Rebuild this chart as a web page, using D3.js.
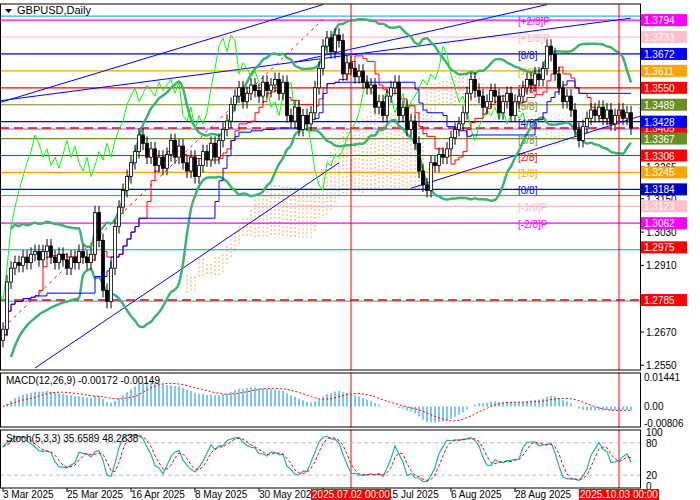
<!DOCTYPE html>
<html><head><meta charset="utf-8">
<script src="https://cdn.jsdelivr.net/npm/d3@7"></script>
<style>body{margin:0;background:#fff}text{font-family:"Liberation Sans",Arial,sans-serif}</style>
</head><body><svg id="c" width="700" height="500"></svg>
<script>
// daily closes, GBPUSD, from 3 Mar 2025
const closes = [1.268,1.285,1.290,1.292,
 1.291,1.294,1.292,1.295,1.296,1.293,1.296,1.298,1.294,1.292,1.295,
 1.293,1.290,1.294,1.292,1.296,1.294,1.292,1.295,
 1.310,1.300,1.282,1.278,1.290,
 1.305,1.312,1.318,1.323,1.328,1.332,1.338,
 1.335,1.330,1.333,1.327,1.330,1.326,1.331,1.336,
 1.330,1.334,1.328,1.325,1.330,1.323,1.327,
 1.332,1.329,1.335,1.330,1.336,1.340,1.343,
 1.349,1.352,1.355,1.350,1.353,1.356,1.354,
 1.352,1.357,1.354,1.356,1.358,1.353,1.357,
 1.345,1.343,1.348,1.340,1.345,1.342,1.346,
 1.355,1.362,1.370,1.373,1.368,1.374,1.372,
 1.360,1.364,1.362,1.359,1.361,1.357,1.355,
 1.356,1.348,1.350,1.345,1.352,1.355,1.357,
 1.345,1.348,1.340,1.343,1.335,1.325,1.320,
 1.318,1.328,1.327,1.331,1.330,1.333,1.337,
 1.340,1.342,1.346,1.353,1.358,1.354,1.352,
 1.348,1.350,1.354,1.352,1.346,1.350,1.353,
 1.345,1.350,1.352,1.355,1.358,1.356,1.360,
 1.358,1.362,1.370,1.367,1.360,1.355,1.350,
 1.352,1.347,1.340,1.336,1.341,1.344,1.347,
 1.345,1.348,1.344,1.347,1.342,1.345,1.347,
 1.344,1.346,1.3405];
const wick = 0.0025;

const tickIdx = [0,16,32,48,64,80,96,112,128,87,154];
const tickLabels = ["3 Mar 2025","25 Mar 2025","16 Apr 2025","8 May 2025","30 May 2025","23 Jun 2025","15 Jul 2025","6 Aug 2025","28 Aug 2025","2025.07.02 00:00","2025.10.03 00:00"];
const redTicks = [9,10];

const murreyNames = ["[+2/8]P","[+1/8]P","[8/8]","[7/8]","[6/8]","[5/8]","[4/8]","[3/8]","[2/8]","[1/8]","[0/8]","[-1/8]P","[-2/8]P"];
const murreyPrices = [1.3794,1.3733,1.3672,1.3611,1.3550,1.3489,1.3428,1.3367,1.3306,1.3245,1.3184,1.3123,1.3062];
const murreyColors = ["#ff00ff","#ffb6c1","#0000cd","#ffa500","#ff0000","#6b8e23","#0000cd","#6b8e23","#ff0000","#ffa500","#0000cd","#ffb6c1","#ff00ff"];

const fibNames = ["0.0","23.6","38.2","50.0","61.8"];
const fibPrices = [1.3812,1.3405,1.3165,1.2970,1.2785];

const axisTicks = [1.2550,1.2670,1.2910,1.3030,1.3150,1.3265];
const boxPrices = [1.3794,1.3733,1.3672,1.3611,1.3550,1.3489,1.3405,1.3428,1.3367,1.3306,1.3245,1.3184,1.3123,1.3062,1.2975,1.2785];
const boxColors = ["#ff00ff","#ffc0cb","#0000ff","#ffa500","#ff0000","#6b8e23","#ff0000","#0000ff","#6b8e23","#ff0000","#ffa500","#0000cd","#ffc0cb","#ff00ff","#ff0000","#ff0000"];

// trend lines [i1,p1,i2,p2]
const trends = [[-1,1.3496,80,1.3850],[-1,1.3503,157,1.3801],[73,1.3643,136,1.3850],
 [8,1.2540,84,1.3280],[102,1.3188,160,1.3451]];
const redDiag = [-1,1.2670,80,1.3797];

const svg = d3.select("#c");
const W = 640, mTop = 4, mBot = 370;
const x = d3.scaleLinear().domain([0,157]).range([3,631]);
const y = d3.scaleLinear().domain([1.3852,1.2533]).range([mTop,mBot]);

const bars = closes.map((c,i)=>{const o=i?closes[i-1]:c-0.004;return {i,o,c,h:Math.max(o,c)+wick,l:Math.min(o,c)-wick};});

svg.append("defs").append("clipPath").attr("id","mc").append("rect").attr("x",0).attr("y",mTop).attr("width",W).attr("height",mBot-mTop);
const g = svg.append("g").attr("clip-path","url(#mc)");

// ichimoku
const hh=(a,b)=>d3.max(bars.slice(Math.max(0,a),b+1),d=>d.h), ll=(a,b)=>d3.min(bars.slice(Math.max(0,a),b+1),d=>d.l);
const tenkan = bars.map((d,i)=>(hh(i-8,i)+ll(i-8,i))/2);
const kijun = bars.map((d,i)=>(hh(i-25,i)+ll(i-25,i))/2);
const spanB = bars.map((d,i)=>(hh(i-51,i)+ll(i-51,i))/2);
bars.forEach((d,i)=>{
  if(i<20) return;
  const a=(tenkan[i]+kijun[i])/2, b=spanB[i];
  g.append("line").attr("x1",x(i+26)).attr("x2",x(i+26)).attr("y1",y(a)).attr("y2",y(b))
   .attr("stroke",a>=b?"#f4a460":"#d8bfd8").attr("stroke-dasharray","2,2");
});

// horizontal levels
murreyPrices.forEach((p,k)=>{
  g.append("line").attr("x1",0).attr("x2",W).attr("y1",y(p)).attr("y2",y(p)).attr("stroke",murreyColors[k]).attr("stroke-width",1.2);
  g.append("text").attr("x",518).attr("y",y(p)+5).attr("font-size",10).attr("fill",murreyColors[k]).text(murreyNames[k]);
});
fibPrices.forEach((p,k)=>{
  g.append("line").attr("x1",0).attr("x2",W).attr("y1",y(p)+1).attr("y2",y(p)+1).attr("stroke","#1e90ff");
  g.append("text").attr("x",657).attr("y",y(p)-2).attr("text-anchor","end").attr("font-size",9).attr("fill","#1e90ff").text(fibNames[k]);
});
[1.3405,1.2785].forEach(p=>g.append("line").attr("x1",0).attr("x2",W).attr("y1",y(p)).attr("y2",y(p)).attr("stroke","#ff0000").attr("stroke-width",1.5).attr("stroke-dasharray","9,5"));

// trend lines
trends.forEach(t=>g.append("line").attr("x1",x(t[0])).attr("y1",y(t[1])).attr("x2",x(t[2])).attr("y2",y(t[3])).attr("stroke","#0000ff"));
g.append("line").attr("x1",x(redDiag[0])).attr("y1",y(redDiag[1])).attr("x2",x(redDiag[2])).attr("y2",y(redDiag[3])).attr("stroke","#ff0000").attr("stroke-dasharray","3,4");

// bollinger
const bb = bars.map((d,i)=>{const s=closes.slice(Math.max(0,i-19),i+1);const m=d3.mean(s),sd=d3.deviation(s)||0;return {i,m,u:m+2*sd,l:m-2*sd};});
const line = (acc)=>d3.line().x(d=>x(d.i)).y(acc).curve(d3.curveMonotoneX);
["u","l"].forEach(k=>g.append("path").datum(bb.slice(2)).attr("d",line(d=>y(d[k]))).attr("fill","none").attr("stroke","#3cb371").attr("stroke-width",2.5));
// chikou
g.append("path").datum(bars.map(d=>({i:d.i-26,v:d.c}))).attr("d",d3.line().x(d=>x(d.i)).y(d=>y(d.v))).attr("fill","none").attr("stroke","#00ff00");
g.append("path").datum(bars).attr("d",d3.line().x(d=>x(d.i)).y(d=>y(tenkan[d.i])).curve(d3.curveStepAfter)).attr("fill","none").attr("stroke","#ff0000");
g.append("path").datum(bars).attr("d",d3.line().x(d=>x(d.i)).y(d=>y(kijun[d.i])).curve(d3.curveStepAfter)).attr("fill","none").attr("stroke","#0000ff");

// candles
const cg = g.selectAll(".cd").data(bars).join("g");
cg.append("line").attr("x1",d=>x(d.i)).attr("x2",d=>x(d.i)).attr("y1",d=>y(d.h)).attr("y2",d=>y(d.l)).attr("stroke","#000");
cg.append("rect").attr("x",d=>x(d.i)-1.5).attr("width",3).attr("y",d=>y(Math.max(d.o,d.c))).attr("height",d=>Math.max(1,Math.abs(y(d.o)-y(d.c))))
  .attr("fill",d=>d.c>=d.o?"#fff":"#000").attr("stroke","#000").attr("stroke-width",0.8);

// vertical red lines
const panes=[[mTop,mBot],[373,427],[430,488]];
redTicks.forEach(k=>panes.forEach(p=>svg.append("line").attr("x1",x(tickIdx[k])).attr("x2",x(tickIdx[k])).attr("y1",p[0]).attr("y2",p[1]).attr("stroke","#ff0000")));

// MACD
const ema=(arr,n)=>{const a=2/(n+1);let e=arr[0];return arr.map(v=>e=v*a+e*(1-a));};
const e12=ema(closes,12),e26=ema(closes,26);
const macd=closes.map((c,i)=>e12[i]-e26[i]);
const sig=macd.map((v,i)=>d3.mean(macd.slice(Math.max(0,i-8),i+1)));
const ym=d3.scaleLinear().domain([0.01441,-0.00806]).range([377,423]);
svg.selectAll(".mh").data(macd).join("line").attr("x1",(d,i)=>x(i)).attr("x2",(d,i)=>x(i)).attr("y1",ym(0)).attr("y2",d=>ym(d)).attr("stroke","#29a3dc").attr("stroke-width",1.2);
svg.append("path").datum(sig).attr("d",d3.line().x((d,i)=>x(i)).y(d=>ym(d))).attr("fill","none").attr("stroke","#ff0000").attr("stroke-dasharray","2,2");

// Stochastic 5,3,3
const raw=bars.map((d,i)=>{const H=hh(i-4,i),L=ll(i-4,i);return 100*(d.c-L)/(H-L);});
const sma=(arr,n)=>arr.map((v,i)=>d3.mean(arr.slice(Math.max(0,i-n+1),i+1)));
const kk=sma(raw,3),dd=sma(kk,3);
const ys=d3.scaleLinear().domain([100,0]).range([432,486]);
[20,80].forEach(v=>svg.append("line").attr("x1",0).attr("x2",W).attr("y1",ys(v)).attr("y2",ys(v)).attr("stroke","#bbb").attr("stroke-dasharray","4,3"));
svg.append("path").datum(kk).attr("d",d3.line().x((d,i)=>x(i)).y(d=>ys(d))).attr("fill","none").attr("stroke","#20b2aa").attr("stroke-width",1.2);
svg.append("path").datum(dd).attr("d",d3.line().x((d,i)=>x(i)).y(d=>ys(d))).attr("fill","none").attr("stroke","#ff0000").attr("stroke-dasharray","3,2");

// pane borders
panes.forEach(p=>svg.append("rect").attr("x",0.5).attr("y",p[0]).attr("width",W).attr("height",p[1]-p[0]).attr("fill","none").attr("stroke","#000"));

// right axis
const ax=svg.append("g");
axisTicks.forEach(p=>{ax.append("line").attr("x1",W).attr("x2",W+4).attr("y1",y(p)).attr("y2",y(p)).attr("stroke","#000");
  ax.append("text").attr("x",W+6).attr("y",y(p)+4).attr("font-size",10).text(p.toFixed(4));});
boxPrices.forEach((p,k)=>{ax.append("rect").attr("x",W+1).attr("y",y(p)-6).attr("width",46).attr("height",12).attr("fill",boxColors[k]);
  ax.append("text").attr("x",W+4).attr("y",y(p)+4).attr("font-size",10).attr("fill","#fff").text(p.toFixed(4));});
[[0.01441,"0.01441"],[0,"0.00"],[-0.00806,"-0.00806"]].forEach(t=>ax.append("text").attr("x",W+4).attr("y",ym(t[0])+4).attr("font-size",10).text(t[1]));
[[100,"100"],[80,"80"],[20,"20"],[0,"0"]].forEach(t=>ax.append("text").attr("x",W+6).attr("y",ys(t[0])+4).attr("font-size",10).text(t[1]));

// time axis: normal labels start at their tick, red labels centred and drawn last
tickIdx.forEach((ti,k)=>{
  if(redTicks.includes(k)) return;
  const xx=x(ti);
  svg.append("line").attr("x1",xx).attr("x2",xx).attr("y1",488).attr("y2",492).attr("stroke","#000");
  svg.append("text").attr("x",xx).attr("y",498).attr("font-size",10).text(tickLabels[k]);
});
redTicks.forEach(k=>{
  const xx=x(tickIdx[k]);
  svg.append("rect").attr("x",xx-40).attr("y",489).attr("width",80).attr("height",11).attr("fill","#ff0000");
  svg.append("text").attr("x",xx).attr("y",498).attr("font-size",10).attr("fill","#fff").attr("text-anchor","middle").text(tickLabels[k]);
});

// titles
svg.append("path").attr("d","M5,9 L12,9 L8.5,13Z").attr("fill","#000");
svg.append("text").attr("x",17).attr("y",14).attr("font-size",11).text("GBPUSD,Daily");
svg.append("text").attr("x",6).attr("y",384).attr("font-size",10).text("MACD(12,26,9) -0.00172 -0.00149");
svg.append("text").attr("x",6).attr("y",442).attr("font-size",10).text("Stoch(5,3,3) 35.6589 48.2838");
</script></body></html>
